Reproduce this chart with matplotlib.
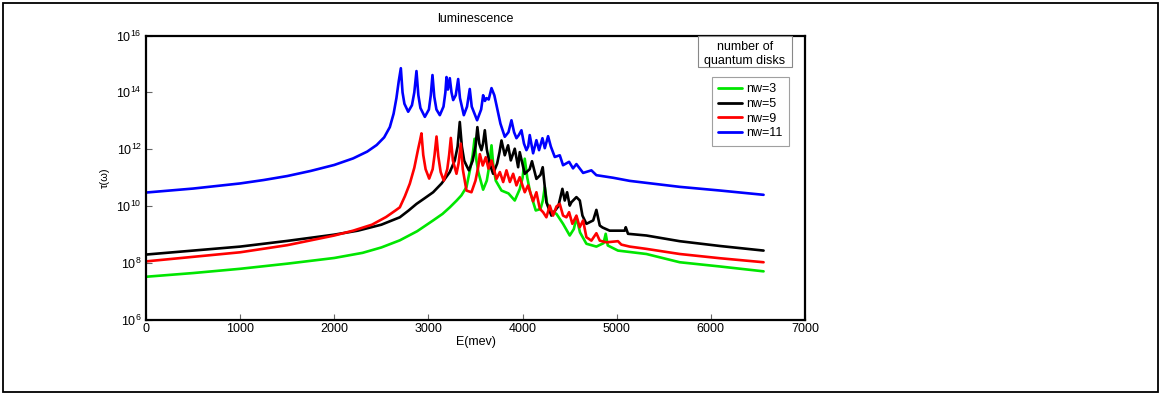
import matplotlib
matplotlib.use("Agg")
import matplotlib.pyplot as plt
import numpy as np
from matplotlib.patches import Rectangle
from matplotlib.ticker import FixedLocator, FuncFormatter

plt.rcParams['font.family'] = ['Liberation Sans', 'DejaVu Sans']
plt.rcParams['mathtext.fontset'] = 'custom'
plt.rcParams['mathtext.rm'] = 'Liberation Sans'
plt.rcParams['mathtext.it'] = 'Liberation Sans:italic'

# ---- data (energy in meV, log10 of tau) ----
e_nw3 = [0, 500, 1000, 1500, 2000, 2300, 2500, 2696, 2880, 3050, 3150, 3227, 3300, 3350,
         3404, 3447, 3470, 3490, 3510, 3530, 3581, 3620, 3645, 3670, 3690, 3715, 3776,
         3850, 3917, 3970, 4000, 4023, 4050, 4080, 4140, 4190, 4215, 4236, 4260, 4290,
         4360, 4430, 4501, 4545, 4572, 4610, 4678, 4784, 4860, 4883, 4905, 5013, 5315,
         5669, 6100, 6560]
log_tau_nw3 = [7.52, 7.65, 7.80, 7.98, 8.18, 8.36, 8.55, 8.80, 9.12, 9.50, 9.73, 9.96,
               10.20, 10.38, 10.67, 11.37, 11.80, 12.37, 11.60, 11.20, 10.58, 10.90, 11.40,
               12.14, 11.40, 10.90, 10.55, 10.45, 10.20, 10.60, 11.00, 11.67, 11.00, 10.50,
               9.85, 9.90, 10.20, 10.67, 10.10, 9.85, 9.73, 9.38, 8.97, 9.20, 9.61, 9.08,
               8.68, 8.58, 8.70, 9.03, 8.62, 8.44, 8.32, 8.03, 7.88, 7.71]

e_nw5 = [0, 500, 1000, 1500, 2000, 2250, 2500, 2696, 2790, 2873, 2960, 3050, 3140, 3227,
         3280, 3310, 3333, 3355, 3380, 3404, 3430, 3470, 3500, 3520, 3540, 3563, 3580,
         3599, 3620, 3650, 3687, 3730, 3755, 3776, 3811, 3846, 3875, 3917, 3953, 3970,
         4023, 4075, 4100, 4147, 4190, 4214, 4253, 4306, 4380, 4423, 4448, 4473, 4501,
         4519, 4572, 4608, 4636, 4678, 4750, 4784, 4820, 4850, 4925, 5085, 5096, 5120,
         5315, 5669, 6100, 6560]
log_tau_nw5 = [8.30, 8.44, 8.58, 8.78, 9.00, 9.14, 9.35, 9.61, 9.85, 10.08, 10.28, 10.49,
               10.80, 11.20, 11.61, 12.10, 12.96, 12.10, 11.60, 11.43, 11.26, 11.60, 12.10,
               12.78, 12.20, 11.97, 12.20, 12.67, 12.00, 11.50, 11.14, 11.50, 11.90, 12.31,
               11.79, 12.14, 11.61, 12.02, 11.37, 11.90, 11.14, 11.30, 11.58, 10.96, 11.10,
               11.37, 10.14, 9.67, 10.00, 10.61, 10.20, 10.49, 10.02, 10.14, 10.32, 10.20,
               9.67, 9.38, 9.50, 9.87, 9.32, 9.25, 9.14, 9.14, 9.26, 9.03, 8.97, 8.77,
               8.60, 8.44]

e_nw9 = [0, 500, 1000, 1500, 2000, 2200, 2400, 2550, 2650, 2696, 2750, 2802, 2850, 2890,
         2910, 2926, 2945, 2970, 3008, 3045, 3065, 3086, 3105, 3130, 3163, 3200, 3220,
         3238, 3260, 3298, 3320, 3344, 3365, 3404, 3457, 3500, 3530, 3546, 3577, 3609,
         3638, 3670, 3723, 3759, 3794, 3829, 3865, 3900, 3935, 3970, 4023, 4058, 4112,
         4147, 4183, 4218, 4253, 4289, 4324, 4360, 4395, 4430, 4466, 4494, 4529, 4572,
         4607, 4643, 4678, 4731, 4784, 4820, 4890, 5013, 5049, 5138, 5315, 5669, 6100,
         6560]
log_tau_nw9 = [8.06, 8.22, 8.38, 8.63, 8.97, 9.14, 9.35, 9.62, 9.85, 9.96, 10.35, 10.79,
               11.35, 12.00, 12.30, 12.56, 11.80, 11.30, 10.97, 11.30, 11.80, 12.45, 11.75,
               11.20, 10.90, 11.30, 11.80, 12.40, 11.60, 11.14, 11.50, 12.20, 11.30, 10.55,
               10.49, 10.90, 11.40, 11.83, 11.43, 11.72, 11.32, 11.61, 10.96, 11.20, 10.85,
               11.26, 10.85, 11.14, 10.73, 11.02, 10.49, 10.73, 10.17, 10.49, 9.91, 9.79,
               9.61, 10.02, 9.67, 9.99, 10.08, 9.67, 9.61, 9.79, 9.38, 9.67, 9.26, 9.50,
               8.91, 8.79, 9.05, 8.79, 8.73, 8.77, 8.65, 8.58, 8.50, 8.32, 8.17, 8.03]

e_nw11 = [0, 500, 1000, 1250, 1500, 1750, 2000, 2200, 2350, 2450, 2530, 2590, 2630, 2660,
          2685, 2707, 2725, 2745, 2785, 2825, 2850, 2873, 2893, 2915, 2962, 3005, 3025,
          3043, 3062, 3085, 3121, 3160, 3180, 3192, 3207, 3227, 3245, 3263, 3290, 3316,
          3335, 3376, 3410, 3439, 3460, 3517, 3560, 3581, 3600, 3617, 3640, 3670, 3700,
          3723, 3765, 3811, 3850, 3882, 3910, 3935, 3960, 3988, 4015, 4041, 4060, 4076,
          4112, 4147, 4175, 4211, 4236, 4271, 4300, 4342, 4395, 4430, 4494, 4536, 4572,
          4643, 4731, 4784, 4961, 5138, 5315, 5669, 6100, 6560]
log_tau_nw11 = [10.48, 10.62, 10.80, 10.92, 11.06, 11.24, 11.45, 11.68, 11.92, 12.15,
                12.42, 12.78, 13.25, 13.80, 14.40, 14.85, 14.00, 13.60, 13.32, 13.55,
                14.00, 14.75, 13.90, 13.45, 13.14, 13.40, 13.90, 14.61, 13.85, 13.40,
                13.20, 13.50, 14.00, 14.54, 14.10, 14.50, 14.00, 13.73, 13.90, 14.47,
                13.80, 13.20, 13.50, 14.12, 13.50, 13.02, 13.40, 13.90, 13.70, 13.80,
                13.75, 14.15, 13.90, 13.55, 12.90, 12.44, 12.60, 13.02, 12.60, 12.39,
                12.50, 12.67, 12.20, 11.97, 12.10, 12.50, 11.86, 12.32, 11.97, 12.39,
                12.04, 12.46, 12.10, 11.73, 11.79, 11.44, 11.56, 11.33, 11.48, 11.17,
                11.26, 11.09, 11.00, 10.89, 10.82, 10.68, 10.55, 10.40]

series = [
    ("nw=3", e_nw3, log_tau_nw3, "#00e600"),
    ("nw=5", e_nw5, log_tau_nw5, "#000000"),
    ("nw=9", e_nw9, log_tau_nw9, "#ff0000"),
    ("nw=11", e_nw11, log_tau_nw11, "#0000ff"),
]

x_ticks = [0, 1000, 2000, 3000, 4000, 5000, 6000, 7000]
y_tick_exps = [6, 8, 10, 12, 14, 16]

W, H = 1163, 395
fig = plt.figure(figsize=(W / 100, H / 100), dpi=100)
ax = fig.add_axes([146 / W, 1 - 320 / H, 659 / W, 284.5 / H])

for label, e, lt, c in series:
    ax.plot(e, 10.0 ** np.array(lt), color=c, lw=1.9, label=label,
            solid_joinstyle='round', solid_capstyle='round')

ax.set_yscale('log')
ax.set_xlim(0, 7000)
ax.set_ylim(1e6, 1e16)
ax.xaxis.set_major_locator(FixedLocator(x_ticks))
ax.yaxis.set_major_locator(FixedLocator([10.0 ** k for k in y_tick_exps]))
ax.yaxis.set_minor_locator(FixedLocator([]))
ax.yaxis.set_major_formatter(FuncFormatter(lambda v, p: r'$10^{%d}$' % round(np.log10(v))))
ax.tick_params(axis='both', direction='in', length=4, width=0.8, color='#666666',
               labelsize=9, pad=2)
ax.tick_params(axis='y', pad=3)
for sp in ax.spines.values():
    sp.set_linewidth(1.6)

ax.set_title('luminescence', fontsize=9, pad=10)
ax.set_xlabel('E(mev)', fontsize=9, labelpad=1)
ax.set_ylabel('τ(ω)', fontsize=8)
ax.yaxis.set_label_coords(-0.055, 0.5)

# legend
leg = ax.legend(loc='upper left', bbox_to_anchor=(712 / W, 1 - 77 / H),
                bbox_transform=fig.transFigure, fontsize=9, frameon=True,
                fancybox=False, borderaxespad=0, borderpad=0.5, labelspacing=0.22,
                handlelength=1.9, handletextpad=0.35)
leg.get_frame().set_edgecolor('#888888')
leg.get_frame().set_linewidth(0.8)
for ln in leg.get_lines():
    ln.set_linewidth(2.0)

# legend title box
fig.patches.append(Rectangle((698 / W, 1 - 67 / H), 94 / W, 31 / H, transform=fig.transFigure,
                             facecolor='white', edgecolor='#888888', lw=0.8, zorder=5))
fig.text(745 / W, 1 - 46.5 / H, 'number of', ha='center', va='center', fontsize=9, zorder=6)
fig.text(745 / W, 1 - 61 / H, 'quantum disks', ha='center', va='center', fontsize=9, zorder=6)

# outer frame
fig.patches.append(Rectangle((3 / W, 3 / H), 1155 / W, 389 / H, transform=fig.transFigure,
                             fill=False, edgecolor='black', lw=1.3))

fig.savefig('out.png', dpi=100)
